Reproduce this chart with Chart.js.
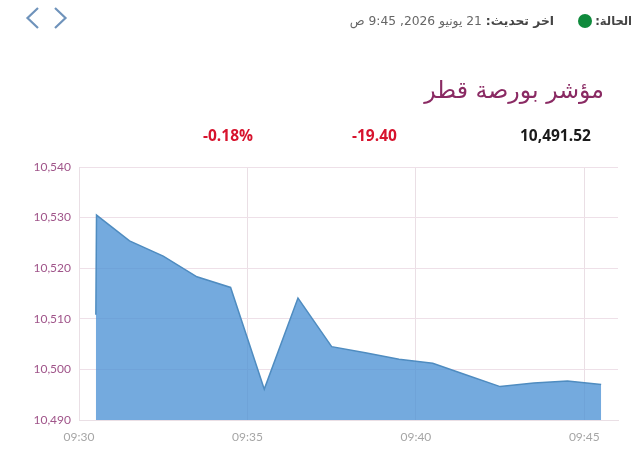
<!DOCTYPE html>
<html lang="ar">
<head>
<meta charset="utf-8">
<script src="https://cdn.jsdelivr.net/npm/chart.js@4"></script>
<style>
html, body { margin: 0; padding: 0; background: #fff; }
body { width: 640px; height: 467px; position: relative; overflow: hidden; }
#chart { position: absolute; left: 0; top: 0; }
.txt { position: absolute; white-space: nowrap; font-family: "DejaVu Sans", "Open Sans", sans-serif; }
.num { font-family: "Open Sans", sans-serif; font-weight: 700; font-size: 15.5px; line-height: 18px; top: 126px; }
</style>
</head>
<body>
<canvas id="chart" width="640" height="467"></canvas>

<svg style="position:absolute;left:24px;top:6px" width="46" height="26">
  <polyline points="14,2 3.5,12 14,22" fill="none" stroke="#6f93bb" stroke-width="2.2"/>
  <polyline points="31,2 41.5,12 31,22" fill="none" stroke="#6f93bb" stroke-width="2.2"/>
</svg>

<div class="txt" dir="rtl" style="right:8px;top:13px;font-size:11.5px;line-height:16px;color:#444;font-weight:700">الحالة:</div>
<div style="position:absolute;left:578px;top:14px;width:14px;height:14px;border-radius:50%;background:#0f8a3c"></div>
<div class="txt" dir="rtl" style="right:86px;top:13px;font-size:12.3px;line-height:16px;color:#666"><b style="color:#444">اخر تحديث:</b> 21 يونيو 2026, 9:45 ص</div>
<div class="txt" dir="rtl" style="right:36px;top:74px;font-size:23.7px;line-height:32px;color:#8a2a63">مؤشر بورصة قطر</div>

<div class="txt num" style="left:520px;color:#1a1a1a">10,491.52</div>
<div class="txt num" style="left:352px;color:#d7142e">-19.40</div>
<div class="txt num" style="left:203px;color:#d7142e">-0.18%</div>

<script>
// minutes after 09:30
const times = [0.5, 0.52, 1.5, 2.5, 3.5, 4.5, 5.5, 6.5, 7.5, 8.5, 9.5, 10.5, 11.5, 12.5, 13.5, 14.5, 15.5];
const values = [10510.8, 10530.5, 10525.4, 10522.4, 10518.3, 10516.2, 10496.1, 10514.1, 10504.5, 10503.3, 10502.0, 10501.2, 10498.9, 10496.6, 10497.3, 10497.7, 10497.0];
const xTickLabels = ['09:30', '09:35', '09:40', '09:45'];

const points = times.map(function (t, i) {
    return { x: t, y: values[i] };
});

new Chart(document.getElementById('chart'), {
    type: 'line',
    data: {
        datasets: [{
            data: points,
            borderColor: '#4f8cc0',
            borderWidth: 1.5,
            backgroundColor: 'rgba(72,143,212,0.76)',
            fill: 'start',
            pointRadius: 0,
            tension: 0
        }]
    },
    options: {
        responsive: false,
        animation: false,
        layout: { padding: { top: 167, right: 22 } },
        plugins: {
            legend: { display: false },
            tooltip: { enabled: false }
        },
        scales: {
            x: {
                type: 'linear',
                min: 0,
                max: 16,
                afterFit: function (axis) { axis.height = 47; },
                grid: { color: '#eadfe5', drawTicks: false },
                border: { color: '#eadfe5' },
                ticks: {
                    stepSize: 5,
                    includeBounds: false,
                    maxRotation: 0,
                    padding: 10,
                    color: '#a6a6a6',
                    font: { family: 'Lato', size: 12 },
                    callback: function (value) { return xTickLabels[value / 5]; }
                }
            },
            y: {
                min: 10490,
                max: 10540,
                afterFit: function (axis) { axis.width = 79; },
                grid: { color: '#eee0e8', drawTicks: false },
                border: { color: '#eadfe5' },
                ticks: {
                    stepSize: 10,
                    padding: 8,
                    color: '#a0558a',
                    font: { family: 'Lato', size: 12 },
                    callback: function (value) { return value.toLocaleString('en-US'); }
                }
            }
        }
    }
});
</script>
</body>
</html>
